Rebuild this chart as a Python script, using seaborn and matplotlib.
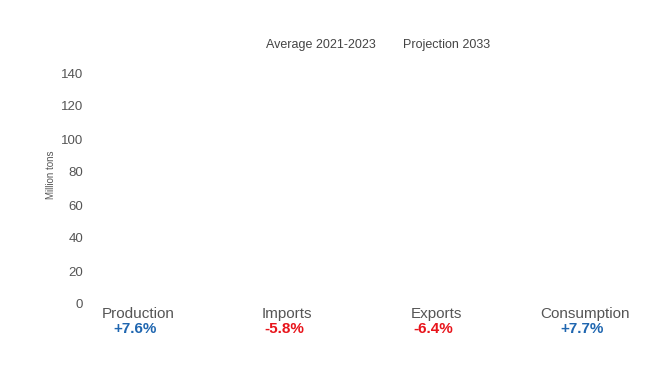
import pandas as pd
import matplotlib
matplotlib.use('Agg')
import matplotlib.pyplot as plt
import matplotlib.patches as mpatches
import matplotlib.transforms as mtransforms
import seaborn as sns

# Dados (as barras não aparecem na imagem de referência -> altura zero)
categorias = ['Production', 'Imports', 'Exports', 'Consumption']
media_2021_2023 = [0, 0, 0, 0]
projecao_2033 = [0, 0, 0, 0]
variacao = ['+7.6%', '-5.8%', '-6.4%', '+7.7%']
series = ['Average 2021-2023', 'Projection 2033']
yticks = [0, 20, 40, 60, 80, 100, 120, 140]

df = pd.DataFrame({
    'categoria': categorias * 2,
    'valor': media_2021_2023 + projecao_2033,
    'serie': [series[0]] * 4 + [series[1]] * 4,
})

sns.set_theme(style='white')
plt.rcParams['font.family'] = ['Liberation Sans', 'DejaVu Sans']

fig = plt.figure(figsize=(6.5, 3.66), dpi=100)
ax = fig.add_axes([90 / 650, 62 / 366, 555 / 650, 231 / 366])

sns.barplot(data=df, x='categoria', y='valor', hue='serie', ax=ax,
            palette=['#ffffff', '#ffffff'], linewidth=0, legend=False)

ax.set_xlim(-0.32, 3.40)
ax.set_ylim(0, 140)
ax.set_yticks(yticks)
ax.set_yticklabels([str(t) for t in yticks], fontsize=9.5, color='#555555')
ax.tick_params(axis='y', length=0, pad=5)
ax.set_xticks([])
ax.set_xlabel('')
ax.set_ylabel('Million tons', fontsize=7, color='#555555')
ax.yaxis.set_label_coords(-0.062, 0.56)
sns.despine(ax=ax, left=True, bottom=True)

# rótulos das categorias e variação percentual
trans = mtransforms.blended_transform_factory(ax.transData, fig.transFigure)
for i, (cat, var) in enumerate(zip(categorias, variacao)):
    ax.text(i, 1 - 314 / 366, cat, transform=trans, ha='center', va='center',
            fontsize=11, color='#555555')
    cor = '#1f66b0' if var.startswith('+') else '#e8141b'
    ax.text(i - 0.02, 1 - 329 / 366, var, transform=trans, ha='center', va='center',
            fontsize=11, fontweight='bold', color=cor)

# legenda só com texto
handles = [mpatches.Patch(color='none', label=s) for s in series]
fig.legend(handles=handles, loc='center', bbox_to_anchor=(378 / 650, 1 - 45 / 366),
           ncol=2, frameon=False, fontsize=9, handlelength=0, handletextpad=0,
           columnspacing=2.2, labelcolor='#444444')

plt.savefig('out.png', dpi=100)
plt.close()
